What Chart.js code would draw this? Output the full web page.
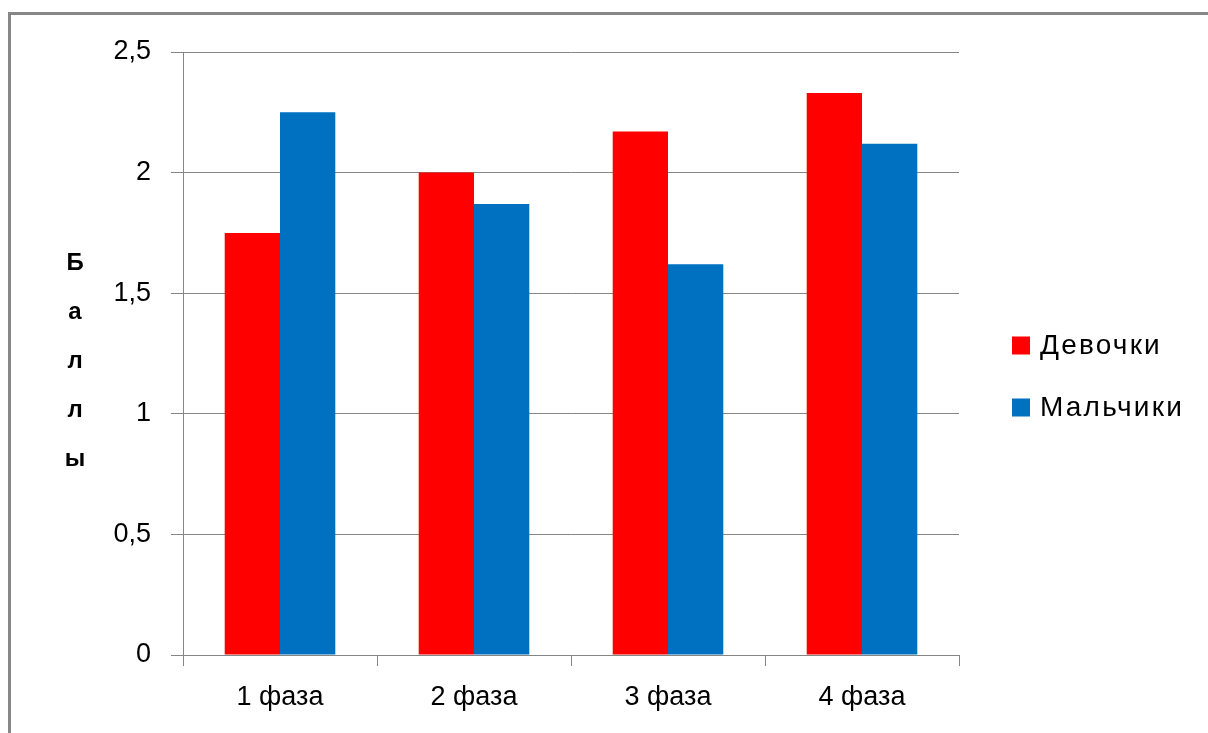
<!DOCTYPE html>
<html lang="ru">
<head>
<meta charset="utf-8">
<title>Баллы по фазам</title>
<script src="https://cdn.jsdelivr.net/npm/chart.js@4.4.1/dist/chart.umd.min.js"></script>
<style>
  html, body { margin: 0; padding: 0; background: #fff; overflow: hidden; }
  #wrap { position: relative; width: 1208px; height: 733px; }
  #frame {
    position: absolute; left: 8px; top: 12px;
    width: 1400px; height: 900px;
    border: 3px solid #878787; box-sizing: border-box;
  }
  #chart { position: absolute; left: 0; top: 0; }
</style>
</head>
<body>
<div id="wrap">
  <div id="frame"></div>
  <canvas id="chart" width="1208" height="733"></canvas>
</div>
<script>
// Categories and series
const phases = ['1 фаза', '2 фаза', '3 фаза', '4 фаза'];
const girls = [1.75, 2.0, 2.17, 2.33];
const boys = [2.25, 1.87, 1.62, 2.12];
const seriesNames = ['Девочки', 'Мальчики'];
const seriesColors = ['#FF0000', '#0070C0'];
const yTickLabels = ['0', '0,5', '1', '1,5', '2', '2,5'];
const yAxisTitle = 'Баллы';

const FONT = '"Liberation Sans", Arial, sans-serif';

// Vertical, letter-by-letter axis title and a right-hand legend
const decorations = {
  id: 'decorations',
  afterDraw(chart) {
    const ctx = chart.ctx;
    ctx.save();
    ctx.fillStyle = '#000';
    ctx.textAlign = 'center';
    ctx.textBaseline = 'middle';
    ctx.font = 'bold 24px ' + FONT;
    const letters = Array.from(yAxisTitle);
    const step = 49;
    const midY = 361;
    const startY = midY - step * (letters.length - 1) / 2;
    letters.forEach((ch, i) => ctx.fillText(ch, 75, startY + i * step));

    ctx.textAlign = 'left';
    ctx.font = '28px ' + FONT;
    if ('letterSpacing' in ctx) ctx.letterSpacing = '2.2px';
    chart.data.datasets.forEach((ds, i) => {
      const cy = 345.5 + i * 62;
      ctx.fillStyle = ds.backgroundColor;
      ctx.fillRect(1012, cy - 9, 18, 18);
      ctx.fillStyle = '#000';
      ctx.fillText(ds.label, 1040, cy + 1);
    });
    ctx.restore();
  }
};

new Chart(document.getElementById('chart'), {
  type: 'bar',
  data: {
    labels: phases,
    datasets: [
      { label: seriesNames[0], data: girls, backgroundColor: seriesColors[0] },
      { label: seriesNames[1], data: boys, backgroundColor: seriesColors[1] }
    ]
  },
  options: {
    responsive: false,
    animation: false,
    events: [],
    layout: { padding: { left: 0, top: 52, right: 249, bottom: 0 } },
    datasets: { bar: { categoryPercentage: 0.57, barPercentage: 1.0 } },
    plugins: {
      legend: { display: false },
      tooltip: { enabled: false }
    },
    scales: {
      x: {
        grid: {
          offset: true,
          drawOnChartArea: false,
          drawTicks: true,
          tickLength: 11,
          color: '#868686',
          lineWidth: 1
        },
        border: { display: true, color: '#868686', width: 1 },
        ticks: {
          color: '#000',
          font: { family: FONT, size: 27 },
          padding: 15,
          maxRotation: 0
        },
        afterFit(axis) { axis.height = 78; }
      },
      y: {
        min: 0,
        max: 2.5,
        grid: {
          color: '#868686',
          lineWidth: 1,
          drawTicks: true,
          tickLength: 12
        },
        border: { display: true, color: '#868686', width: 1 },
        ticks: {
          stepSize: 0.5,
          color: '#000',
          font: { family: FONT, size: 27 },
          padding: 20,
          callback(value, index) { return yTickLabels[index]; }
        },
        afterFit(axis) { axis.width = 183; }
      }
    }
  },
  plugins: [decorations]
});
</script>
</body>
</html>
